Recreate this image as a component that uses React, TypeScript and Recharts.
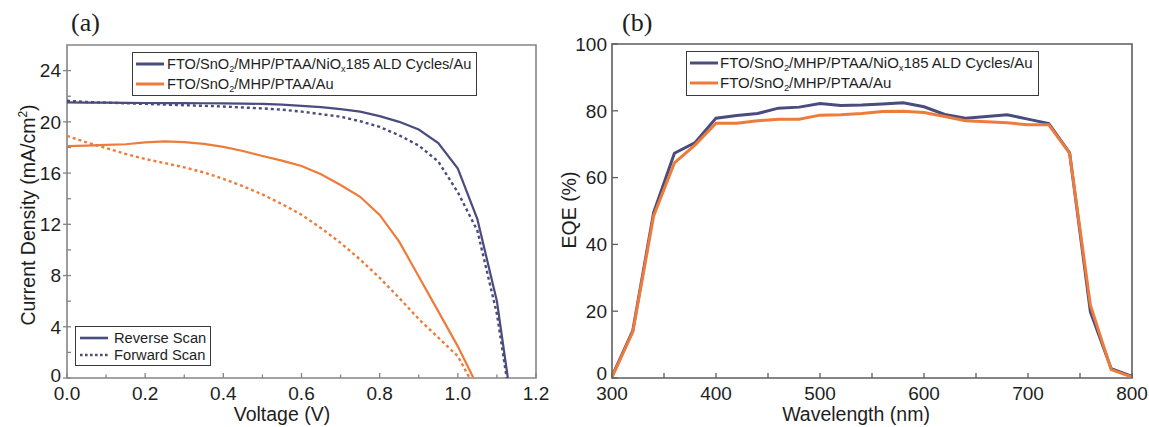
import React from 'react';
import { LineChart, Line, XAxis, YAxis, ReferenceArea } from 'recharts';

// ---------- Panel (a): J-V data ----------
const blueRevV = [0, 0.05, 0.1, 0.15, 0.2, 0.25, 0.3, 0.35, 0.4, 0.45, 0.5, 0.55, 0.6, 0.65, 0.7, 0.75, 0.8, 0.85, 0.9, 0.95, 1.0, 1.05, 1.1, 1.128];
const blueRevJ = [21.52, 21.5, 21.5, 21.48, 21.47, 21.46, 21.46, 21.45, 21.45, 21.43, 21.4, 21.35, 21.25, 21.15, 21.0, 20.8, 20.45, 20.0, 19.4, 18.35, 16.35, 12.4, 6.0, 0];
const blueFwdV = [0, 0.05, 0.1, 0.15, 0.2, 0.25, 0.3, 0.35, 0.4, 0.45, 0.5, 0.55, 0.6, 0.65, 0.7, 0.75, 0.8, 0.85, 0.9, 0.95, 1.0, 1.05, 1.1, 1.125];
const blueFwdJ = [21.65, 21.55, 21.5, 21.45, 21.4, 21.35, 21.3, 21.25, 21.2, 21.12, 21.05, 20.95, 20.8, 20.6, 20.4, 20.05, 19.6, 18.95, 18.15, 16.9, 14.5, 11.5, 5.0, 0];
const orangeRevV = [0, 0.05, 0.1, 0.15, 0.2, 0.25, 0.3, 0.35, 0.4, 0.45, 0.5, 0.55, 0.6, 0.65, 0.7, 0.75, 0.8, 0.85, 0.9, 0.95, 1.0, 1.04];
const orangeRevJ = [18.1, 18.15, 18.2, 18.25, 18.4, 18.47, 18.42, 18.28, 18.05, 17.72, 17.33, 16.97, 16.55, 15.9, 15.07, 14.15, 12.73, 10.65, 7.92, 5.2, 2.47, 0];
const orangeFwdV = [0, 0.05, 0.1, 0.15, 0.2, 0.25, 0.3, 0.35, 0.4, 0.45, 0.5, 0.55, 0.6, 0.65, 0.7, 0.75, 0.8, 0.85, 0.9, 0.95, 1.0, 1.03];
const orangeFwdJ = [18.9, 18.4, 17.95, 17.5, 17.1, 16.78, 16.45, 16.05, 15.55, 14.98, 14.33, 13.58, 12.75, 11.7, 10.55, 9.25, 7.82, 6.25, 4.6, 3.15, 1.7, 0];

const voltTicks = [0, 0.1, 0.2, 0.3, 0.4, 0.5, 0.6, 0.7, 0.8, 0.9, 1.0, 1.1, 1.2];
const currentTicks = [0, 2, 4, 6, 8, 10, 12, 14, 16, 18, 20, 22, 24];

// ---------- Panel (b): EQE data ----------
const wavelengths = [300, 320, 340, 360, 380, 400, 420, 440, 460, 480, 500, 520, 540, 560, 580, 600, 620, 640, 660, 680, 700, 720, 740, 760, 780, 800];
const eqeBlue = [0.5, 14.2, 49.5, 67.3, 70.5, 77.8, 78.6, 79.2, 80.8, 81.1, 82.2, 81.6, 81.7, 82.0, 82.4, 81.2, 78.9, 77.8, 78.3, 78.8, 77.5, 76.2, 67.4, 19.8, 2.8, 0.5];
const eqeOrange = [0.3, 13.8, 48.5, 64.4, 69.8, 76.3, 76.3, 77.0, 77.5, 77.5, 78.7, 78.8, 79.2, 79.8, 79.9, 79.5, 78.3, 77.0, 76.7, 76.4, 75.8, 75.8, 67.3, 21.8, 2.5, 0.3];

const wlTicks = [300, 350, 400, 450, 500, 550, 600, 650, 700, 750, 800];
const eqeTicks = [0, 20, 40, 60, 80, 100];

const seriesNames = ['FTO/SnO_2/MHP/PTAA/NiO_x185 ALD Cycles/Au', 'FTO/SnO_2/MHP/PTAA/Au'];
const scanNames = ['Reverse Scan', 'Forward Scan'];

const zip = (xs: number[], ys: number[]) => xs.map((x, i) => ({ x, y: ys[i] }));

const BLUE = '#4a4c7e';
const ORANGE = '#ee7b3a';
const TEXT = '#1e1e1e';
const AXIS_A = '#858585';
const AXIS_B = '#5e5e5e';
const FONT = '"Liberation Sans", Arial, Helvetica, sans-serif';
const SERIF = '"Liberation Serif", "Times New Roman", serif';

const isMult = (v: number, step: number) => Math.abs(v / step - Math.round(v / step)) < 1e-6;

const TM_X = 9;
const TM_YA = 6;
const TM_YB = 5;

const makeXTick = (step: number, fmt: (v: number) => string, color: string, majLen: number, minLen: number) =>
  (props: any) => {
    const { x, y, payload } = props;
    const v = payload.value as number;
    const major = isMult(v, step);
    const ay = y - TM_X;
    return (
      <g>
        <line x1={x} x2={x} y1={ay} y2={ay - (major ? majLen : minLen)} stroke={color} strokeWidth={1.3} />
        {major && (
          <text x={x} y={y} dy="0.68em" textAnchor="middle" fontSize={19} fontFamily={FONT} fill={TEXT}>
            {fmt(v)}
          </text>
        )}
      </g>
    );
  };

const makeYTick = (step: number, color: string, tm: number, outLen: number, inLen: number, minLen: number, zeroLift: number) =>
  (props: any) => {
    const { x, y, payload } = props;
    const v = payload.value as number;
    const major = isMult(v, step);
    const ax = x + tm;
    return (
      <g>
        <line x1={major ? ax - outLen : ax} x2={ax + (major ? inLen : minLen)} y1={y} y2={y} stroke={color} strokeWidth={1.3} />
        {major && (
          <text x={x} y={v === 0 ? y - zeroLift : y} dy="0.36em" textAnchor="end" fontSize={19} fontFamily={FONT} fill={TEXT}>
            {String(v)}
          </text>
        )}
      </g>
    );
  };

const xTickA = makeXTick(0.2, (v) => v.toFixed(1), AXIS_A, 5, 3.5);
const yTickA = makeYTick(4, AXIS_A, TM_YA, 4, 4, 4, 3);
const xTickB = makeXTick(100, (v) => String(v), AXIS_B, 5, 5);
const yTickB = makeYTick(20, AXIS_B, TM_YB, 0, 6, 3, 5);

function Chem({ name }: { name: string }) {
  const parts = name.split(/_(.)/);
  return (
    <span>
      {parts.map((p, i) =>
        i % 2 === 1 ? (
          <sub key={i} style={{ fontSize: '0.62em', verticalAlign: '-0.35em', lineHeight: 0 }}>{p}</sub>
        ) : (
          <span key={i}>{p}</span>
        )
      )}
    </span>
  );
}

function LegendRow({ top, left, color, dashed, width, label, fontSize, sw, textGap }: any) {
  return (
    <div style={{ position: 'absolute', left, top: top - 10, height: 20, display: 'flex', alignItems: 'center', whiteSpace: 'nowrap' }}>
      <svg width={width} height={6} style={{ display: 'block' }}>
        <line x1={0} x2={width} y1={3} y2={3} stroke={color} strokeWidth={sw} strokeDasharray={dashed ? '2.6 2.4' : undefined} />
      </svg>
      <span style={{ marginLeft: textGap, fontSize, fontFamily: FONT, color: TEXT }}>{label}</span>
    </div>
  );
}

export default function App() {
  return (
    <div style={{ position: 'absolute', left: 0, top: 0, width: 1149, height: 427, background: '#fff', overflow: 'hidden' }}>
      {/* Panel (a) */}
      <div style={{ position: 'absolute', left: 0, top: 0 }}>
        <LineChart width={560} height={427} margin={{ top: 45, right: 24, bottom: 0, left: 0 }}>
          <XAxis type="number" dataKey="x" domain={[0, 1.2]} ticks={voltTicks} interval={0} tickSize={0} tickMargin={TM_X}
            tick={xTickA} axisLine={false} tickLine={false} height={49} allowDataOverflow />
          <YAxis type="number" dataKey="y" domain={[0, 26]} ticks={currentTicks} interval={0} tickSize={0} tickMargin={TM_YA}
            tick={yTickA} axisLine={false} tickLine={false} width={67} allowDataOverflow />
          <ReferenceArea x1={0} x2={1.2} y1={0} y2={26} fill="none" stroke={AXIS_A} strokeWidth={1.6} ifOverflow="visible" />
          <Line data={zip(blueFwdV, blueFwdJ)} dataKey="y" type="linear" stroke={BLUE} strokeWidth={2.4} strokeDasharray="3 3" dot={false} isAnimationActive={false} />
          <Line data={zip(blueRevV, blueRevJ)} dataKey="y" type="linear" stroke={BLUE} strokeWidth={2.2} dot={false} isAnimationActive={false} />
          <Line data={zip(orangeFwdV, orangeFwdJ)} dataKey="y" type="linear" stroke={ORANGE} strokeWidth={2.4} strokeDasharray="3 3" dot={false} isAnimationActive={false} />
          <Line data={zip(orangeRevV, orangeRevJ)} dataKey="y" type="linear" stroke={ORANGE} strokeWidth={2.2} dot={false} isAnimationActive={false} />
        </LineChart>
      </div>

      {/* Panel (b) */}
      <div style={{ position: 'absolute', left: 560, top: 0 }}>
        <LineChart width={589} height={427} margin={{ top: 44, right: 17, bottom: 0, left: 0 }}>
          <XAxis type="number" dataKey="x" domain={[300, 800]} ticks={wlTicks} interval={0} tickSize={0} tickMargin={TM_X}
            tick={xTickB} axisLine={false} tickLine={false} height={49} allowDataOverflow />
          <YAxis type="number" dataKey="y" domain={[0, 100]} ticks={eqeTicks} interval={0} tickSize={0} tickMargin={TM_YB}
            tick={yTickB} axisLine={false} tickLine={false} width={52} allowDataOverflow />
          <ReferenceArea x1={300} x2={800} y1={0} y2={100} fill="none" stroke={AXIS_B} strokeWidth={1.6} ifOverflow="visible" />
          <Line data={zip(wavelengths, eqeBlue)} dataKey="y" type="linear" stroke={BLUE} strokeWidth={3} dot={false} isAnimationActive={false} />
          <Line data={zip(wavelengths, eqeOrange)} dataKey="y" type="linear" stroke={ORANGE} strokeWidth={3} dot={false} isAnimationActive={false} />
        </LineChart>
      </div>

      {/* Titles and axis labels */}
      <svg width={1149} height={427} style={{ position: 'absolute', left: 0, top: 0, pointerEvents: 'none' }}>
        <text x={71} y={31} fontSize={26} fontFamily={SERIF} fill={TEXT}>(a)</text>
        <text x={622} y={31} fontSize={26} fontFamily={SERIF} fill={TEXT}>(b)</text>
        <text x={282} y={421} textAnchor="middle" fontSize={19.5} fontFamily={FONT} fill={TEXT}>Voltage (V)</text>
        <text x={856} y={421} textAnchor="middle" fontSize={19.5} fontFamily={FONT} fill={TEXT}>Wavelength (nm)</text>
        <text x={35} y={215} textAnchor="middle" fontSize={19.5} fontFamily={FONT} fill={TEXT} transform="rotate(-90 35 215)">
          <tspan>Current Density (mA/cm</tspan>
          <tspan dy={-8} fontSize={12}>2</tspan>
          <tspan dy={8}>)</tspan>
        </text>
        <text x={576} y={210} textAnchor="middle" fontSize={19.5} fontFamily={FONT} fill={TEXT} transform="rotate(-90 576 210)">EQE (%)</text>
      </svg>

      {/* Legend (a) top */}
      <div style={{ position: 'absolute', left: 132, top: 52, width: 343, height: 42, border: '1px solid #3a3a3a' }} />
      <LegendRow top={63.5} left={136} color={BLUE} width={28} sw={3} label={<Chem name={seriesNames[0]} />} fontSize={14.6} textGap={3} />
      <LegendRow top={83.5} left={136} color={ORANGE} width={28} sw={3} label={<Chem name={seriesNames[1]} />} fontSize={14.6} textGap={3} />

      {/* Legend (a) bottom */}
      <div style={{ position: 'absolute', left: 75, top: 326, width: 134, height: 38, border: '1px solid #3a3a3a' }} />
      <LegendRow top={337.5} left={80} color={BLUE} width={28} sw={2.6} label={scanNames[0]} fontSize={14.7} textGap={6} />
      <LegendRow top={355} left={80} color={BLUE} width={28} sw={2.6} dashed label={scanNames[1]} fontSize={14.7} textGap={6} />

      {/* Legend (b) */}
      <div style={{ position: 'absolute', left: 686, top: 51, width: 351, height: 43, border: '1px solid #3a3a3a' }} />
      <LegendRow top={62.5} left={690} color={BLUE} width={28} sw={3} label={<Chem name={seriesNames[0]} />} fontSize={15} textGap={2} />
      <LegendRow top={82.5} left={690} color={ORANGE} width={28} sw={3} label={<Chem name={seriesNames[1]} />} fontSize={15} textGap={2} />
    </div>
  );
}
